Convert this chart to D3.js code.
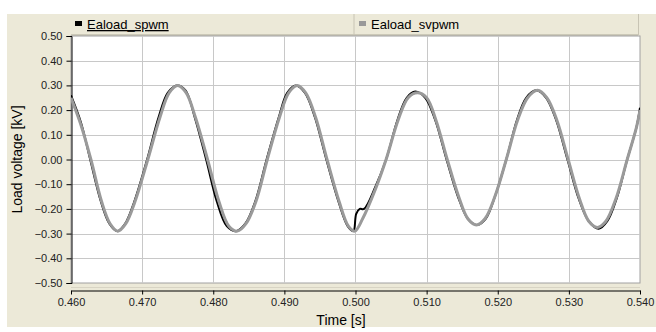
<!doctype html>
<html>
<head>
<meta charset="utf-8">
<script src="https://d3js.org/d3.v7.min.js"></script>
<style>
  body { margin: 0; background: #fff; }
  text { font-family: "Liberation Sans", Arial, sans-serif; }
</style>
</head>
<body>
<div id="chart"></div>
<script>
// series: [time s, voltage kV]
var svpwmTime = [0.4600,0.4614,0.4628,0.4643,0.4655,0.4666,0.4677,0.4690,0.4708,0.4725,0.4738,0.4750,0.4762,0.4775,0.4792,0.4808,0.4822,0.4834,0.4846,0.4860,0.4876,0.4893,0.4906,0.4918,0.4930,0.4944,0.4960,0.4977,0.4990,0.4999,0.5010,0.5028,0.5043,0.5060,0.5074,0.5087,0.5100,0.5113,0.5129,0.5145,0.5158,0.5170,0.5182,0.5196,0.5212,0.5228,0.5242,0.5256,0.5269,0.5283,0.5299,0.5315,0.5328,0.5340,0.5352,0.5366,0.5382,0.5395,0.5400];
var svpwmVolt = [0.25,0.14,0.00,-0.17,-0.26,-0.29,-0.26,-0.17,0.00,0.17,0.27,0.30,0.27,0.17,0.00,-0.17,-0.27,-0.29,-0.26,-0.17,0.00,0.17,0.27,0.30,0.27,0.17,0.00,-0.17,-0.27,-0.29,-0.24,-0.12,0.00,0.16,0.25,0.27,0.25,0.16,0.00,-0.15,-0.24,-0.265,-0.24,-0.15,0.00,0.16,0.25,0.28,0.25,0.16,0.00,-0.16,-0.25,-0.275,-0.25,-0.16,0.00,0.13,0.20];

var spwmTime = [0.4600,0.4614,0.4627,0.4642,0.4654,0.4665,0.4676,0.4689,0.4707,0.4723,0.4736,0.4749,0.4761,0.4774,0.4790,0.4805,0.4819,0.4832,0.4845,0.4859,0.4875,0.4892,0.4904,0.4916,0.4929,0.4943,0.4959,0.4976,0.4989,0.4997,0.5001,0.5006,0.5012,0.5028,0.5043,0.5059,0.5072,0.5084,0.5098,0.5112,0.5128,0.5144,0.5158,0.5171,0.5183,0.5196,0.5212,0.5227,0.5240,0.5254,0.5268,0.5282,0.5298,0.5314,0.5328,0.5342,0.5354,0.5367,0.5382,0.5395,0.5400];
var spwmVolt = [0.26,0.15,0.00,-0.17,-0.26,-0.29,-0.26,-0.17,0.00,0.17,0.27,0.30,0.28,0.17,0.00,-0.17,-0.27,-0.29,-0.26,-0.17,0.00,0.17,0.27,0.30,0.27,0.17,0.00,-0.17,-0.27,-0.29,-0.22,-0.20,-0.20,-0.11,0.00,0.16,0.25,0.275,0.25,0.16,0.00,-0.15,-0.24,-0.265,-0.24,-0.15,0.00,0.16,0.25,0.28,0.25,0.16,0.00,-0.16,-0.25,-0.28,-0.25,-0.16,0.00,0.13,0.21];

var xTicks = [0.46,0.47,0.48,0.49,0.50,0.51,0.52,0.53,0.54];
var yTicks = [0.5,0.4,0.3,0.2,0.1,0,-0.1,-0.2,-0.3,-0.4,-0.5];
var seriesNames = ["Eaload_spwm", "Eaload_svpwm"];

var W = 656, H = 332;
var plot = {left: 71, right: 640, top: 36, bottom: 283};

var svg = d3.select("#chart").append("svg")
  .attr("width", W).attr("height", H);

// beige panel
svg.append("rect").attr("x", 7).attr("y", 14).attr("width", W - 7).attr("height", 313)
  .attr("fill", "#ece9d8");

var x = d3.scaleLinear().domain([0.46, 0.54]).range([plot.left, plot.right]);
var y = d3.scaleLinear().domain([-0.5, 0.5]).range([plot.bottom, plot.top]);

// legend strip
svg.append("line").attr("x1", plot.left).attr("x2", 638).attr("y1", 35).attr("y2", 35)
  .attr("stroke", "#aca899");
svg.append("line").attr("x1", 354).attr("x2", 354).attr("y1", 14).attr("y2", 35)
  .attr("stroke", "#c8c4b4");
svg.append("line").attr("x1", 638.5).attr("x2", 638.5).attr("y1", 14).attr("y2", 35)
  .attr("stroke", "#c8c4b4");

var legX = [75, 359];
var legCol = ["#000", "#999"];
seriesNames.forEach(function(n, i) {
  svg.append("rect").attr("x", legX[i]).attr("y", 21).attr("width", 7).attr("height", 5)
    .attr("fill", legCol[i]);
  svg.append("text").attr("x", legX[i] + 12).attr("y", 29)
    .attr("font-size", "13px").attr("fill", "#000")
    .style("text-decoration", i == 0 ? "underline" : "none")
    .text(n);
});

// plot area
svg.append("rect").attr("x", plot.left).attr("y", plot.top)
  .attr("width", plot.right - plot.left).attr("height", plot.bottom - plot.top)
  .attr("fill", "#fff").attr("stroke", "#a0a0a0");

// grid
svg.append("g").selectAll("line").data(xTicks.slice(1, -1)).enter().append("line")
  .attr("x1", function(d){ return Math.round(x(d)) + 0.5; })
  .attr("x2", function(d){ return Math.round(x(d)) + 0.5; })
  .attr("y1", plot.top).attr("y2", plot.bottom)
  .attr("stroke", "#c8c8c8");
svg.append("g").selectAll("line").data(yTicks.slice(1, -1)).enter().append("line")
  .attr("x1", plot.left).attr("x2", plot.right)
  .attr("y1", function(d){ return Math.round(y(d)) + 0.5; })
  .attr("y2", function(d){ return Math.round(y(d)) + 0.5; })
  .attr("stroke", "#c8c8c8");

// y axis
var yAxis = svg.append("g").attr("transform", "translate(" + (plot.left + 0.5) + ",0)")
  .call(d3.axisLeft(y).tickValues(yTicks).tickFormat(d3.format(".2f")).tickSize(5).tickPadding(4));
yAxis.select(".domain").attr("stroke", "#000");
yAxis.selectAll("text").attr("font-size", "11px").attr("font-family", "Liberation Sans, Arial, sans-serif").attr("fill", "#222");

// separator under plot
svg.append("line").attr("x1", plot.left).attr("x2", plot.right).attr("y1", 287.5).attr("y2", 287.5)
  .attr("stroke", "#d8d4c4");

// x axis
var xAxis = svg.append("g").attr("transform", "translate(0,290.5)")
  .call(d3.axisBottom(x).tickValues(xTicks).tickFormat(d3.format(".3f")).tickSize(4).tickSizeOuter(0).tickPadding(4));
xAxis.select(".domain").attr("stroke", "#000");
xAxis.selectAll("text").attr("font-size", "11px").attr("font-family", "Liberation Sans, Arial, sans-serif").attr("fill", "#222");

// titles
svg.append("text").attr("x", 341).attr("y", 325)
  .attr("text-anchor", "middle").attr("font-size", "14px").text("Time [s]");
svg.append("text").attr("transform", "translate(22," + (plot.top + plot.bottom) / 2 + ") rotate(-90)")
  .attr("text-anchor", "middle").attr("font-size", "14px").text("Load voltage [kV]");

// series
var clip = svg.append("clipPath").attr("id", "clip").append("rect")
  .attr("x", plot.left).attr("y", plot.top)
  .attr("width", plot.right - plot.left).attr("height", plot.bottom - plot.top);

var line = d3.line().x(function(d){ return x(d[0]); }).y(function(d){ return y(d[1]); })
  .curve(d3.curveCatmullRom);

svg.append("path").datum(d3.zip(spwmTime, spwmVolt))
  .attr("d", line).attr("fill", "none").attr("stroke", "#000").attr("stroke-width", 2)
  .attr("clip-path", "url(#clip)");
svg.append("path").datum(d3.zip(svpwmTime, svpwmVolt))
  .attr("d", line).attr("fill", "none").attr("stroke", "#9a9a9a").attr("stroke-width", 3)
  .attr("clip-path", "url(#clip)");
</script>
</body>
</html>
